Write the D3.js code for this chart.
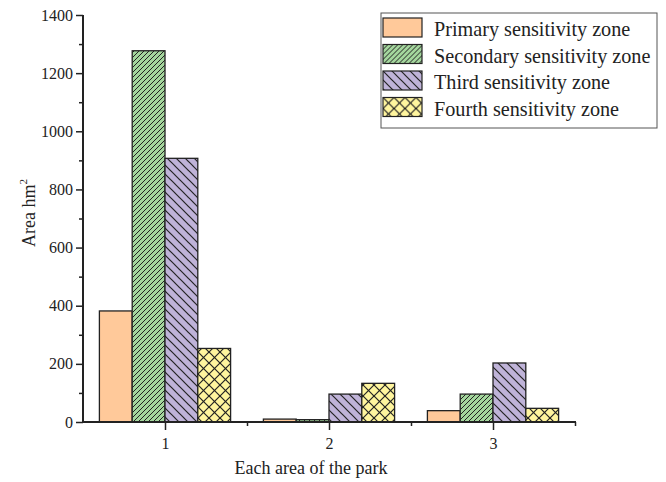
<!DOCTYPE html>
<html>
<head>
<meta charset="utf-8">
<script src="https://cdn.jsdelivr.net/npm/d3@7"></script>
<style>
  body { margin: 0; background: #fff; }
  text { font-family: "Liberation Serif", "Times New Roman", serif; fill: #222; }
</style>
</head>
<body>
<svg id="chart" width="666" height="482"></svg>
<script>
// Park areas and sensitivity zone areas (hm²)
const categories = [1, 2, 3];
const seriesNames = ["Primary sensitivity zone", "Secondary sensitivity zone", "Third sensitivity zone", "Fourth sensitivity zone"];
const primary   = [382, 10, 39];
const secondary = [1277, 8, 96];
const third     = [907, 96, 203];
const fourth    = [253, 133, 47];
const yTicks = [0, 200, 400, 600, 800, 1000, 1200, 1400];

const seriesValues = [primary, secondary, third, fourth];
const fills = ["#FFC99A", "#A4D69D", "#BFB3D8", "#FFF59E"];
const patterns = ["none", "fwd", "back", "cross"];

const serif = '"Liberation Serif", "Times New Roman", serif';
const svg = d3.select("#chart");
const plot = { left: 83, right: 575, top: 15, bottom: 422 };

const x = d3.scaleLinear().domain([0.5, 3.5]).range([plot.left, plot.right]);
const y = d3.scaleLinear().domain([0, 1400]).range([plot.bottom, plot.top]);

// hatch patterns
const defs = svg.append("defs");
function makePattern(id, bg, kind) {
  const size = kind === "fwd" ? 5 : (kind === "back" ? 9 : 11);
  const p = defs.append("pattern").attr("id", id).attr("patternUnits", "userSpaceOnUse")
    .attr("width", size).attr("height", size);
  p.append("rect").attr("width", size).attr("height", size).attr("fill", bg);
  const sw = kind === "fwd" ? 1 : 1.2;
  const addLine = (x1, y1, x2, y2) => p.append("line")
    .attr("x1", x1).attr("y1", y1).attr("x2", x2).attr("y2", y2)
    .attr("stroke", "#222").attr("stroke-width", sw);
  if (kind === "fwd" || kind === "cross") {
    addLine(0, size, size, 0); addLine(-1, 1, 1, -1); addLine(size - 1, size + 1, size + 1, size - 1);
  }
  if (kind === "back" || kind === "cross") {
    addLine(0, 0, size, size); addLine(-1, size - 1, 1, size + 1); addLine(size - 1, -1, size + 1, 1);
  }
  return `url(#${id})`;
}
const fillUrls = fills.map((c, i) => patterns[i] === "none" ? c : makePattern("pat" + i, c, patterns[i]));

// bars
const barW = 0.2;
seriesValues.forEach((vals, si) => {
  svg.append("g").selectAll("rect").data(vals).join("rect")
    .attr("x", (d, i) => x(categories[i] - 0.4 + si * barW))
    .attr("width", x(barW) - x(0))
    .attr("y", d => y(d))
    .attr("height", d => y(0) - y(d))
    .attr("fill", fillUrls[si])
    .attr("stroke", "#222").attr("stroke-width", 1.3);
});

// y axis
const yAxis = svg.append("g").attr("transform", `translate(${plot.left},0)`);
yAxis.call(d3.axisLeft(y).tickValues(yTicks).tickSize(7).tickPadding(3).tickFormat(d3.format("d")));
yAxis.append("g").call(d3.axisLeft(y).tickValues(d3.range(100, 1400, 200)).tickSize(4).tickFormat(""));
// x axis
const xAxis = svg.append("g").attr("transform", `translate(0,${plot.bottom})`);
xAxis.call(d3.axisBottom(x).tickValues(categories).tickSize(8).tickPadding(8).tickFormat(d3.format("d")));
xAxis.append("g").call(d3.axisBottom(x).tickValues([1.5, 2.5, 3.5]).tickSize(4).tickFormat(""));
[yAxis, xAxis].forEach(g => g.attr("font-family", serif).attr("font-size", 16));
svg.selectAll(".domain").remove();
svg.selectAll(".tick line").attr("stroke", "#222").attr("stroke-width", 1.5);
svg.selectAll(".tick text").attr("font-size", 16).attr("fill", "#1a1a1a").style("font-family", serif);
svg.append("line").attr("x1", plot.left).attr("x2", plot.left).attr("y1", plot.top).attr("y2", plot.bottom + 1)
  .attr("stroke", "#222").attr("stroke-width", 2);
svg.append("line").attr("x1", plot.left).attr("x2", plot.right + 1).attr("y1", plot.bottom).attr("y2", plot.bottom)
  .attr("stroke", "#222").attr("stroke-width", 2);

// axis titles
const yt = svg.append("text").attr("transform", "translate(35,213) rotate(-90)")
  .attr("text-anchor", "middle").attr("font-size", 18).style("font-family", serif);
yt.append("tspan").text("Area hm");
yt.append("tspan").attr("font-size", 11).attr("dy", -8).text("2");
svg.append("text").attr("x", 311).attr("y", 474).attr("text-anchor", "middle")
  .attr("font-size", 18).style("font-family", serif).text("Each area of the park");

// legend
const lg = svg.append("g").attr("transform", "translate(381,13)");
lg.append("rect").attr("width", 276).attr("height", 115).attr("fill", "#fff")
  .attr("stroke", "#555").attr("stroke-width", 1);
seriesNames.forEach((name, i) => {
  const row = lg.append("g").attr("transform", `translate(2,${5 + i * 26.5})`);
  row.append("rect").attr("width", 39).attr("height", 19).attr("fill", fillUrls[i])
    .attr("stroke", "#222").attr("stroke-width", 1.2);
  row.append("text").attr("x", 51).attr("y", 18).attr("font-size", 20.2)
    .style("font-family", serif).text(name);
});
</script>
</body>
</html>
